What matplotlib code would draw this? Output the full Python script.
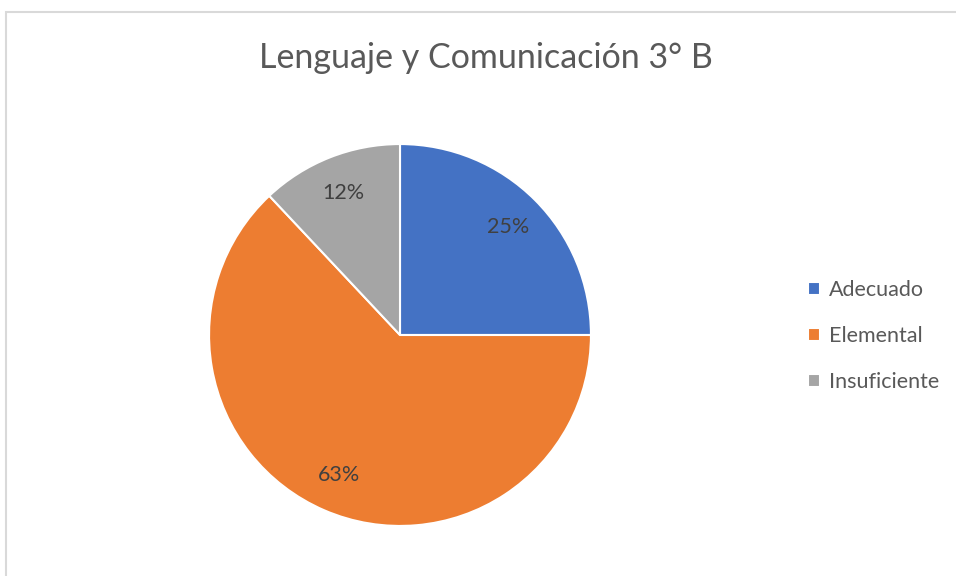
import matplotlib.pyplot as plt
from matplotlib.patches import Rectangle

# data
categories = ["Adecuado", "Elemental", "Insuficiente"]
percentages = [25, 63, 12]
colors = ["#4472C4", "#ED7D31", "#A5A5A5"]

plt.rcParams['font.family'] = ['Lato', 'DejaVu Sans']

fig = plt.figure(figsize=(9.56, 5.76), dpi=100)

# light chart border (top and left visible)
fig.patches.append(Rectangle((6 / 956, -0.1), 1.2, (576 - 12) / 576 + 0.1,
                             transform=fig.transFigure, fill=False,
                             edgecolor="#D9D9D9", linewidth=1.5))

ax = fig.add_axes([210 / 956, 51 / 576, 380 / 956, 380 / 576])
wedges, texts, autotexts = ax.pie(
    percentages, colors=colors, startangle=90, counterclock=False,
    autopct=lambda p: f"{p:.0f}%", pctdistance=0.8,
    wedgeprops=dict(edgecolor="white", linewidth=1.5),
    textprops=dict(color="#404040", fontsize=15.5))
ax.set_xlim(-0.995, 0.995)
ax.set_ylim(-0.995, 0.995)

fig.text(486 / 956, 1 - 58 / 576, "Lenguaje y Comunicación 3° B",
         ha="center", va="center", fontsize=24.5, color="#595959")

leg = fig.legend(wedges, categories, loc="center left",
                 bbox_to_anchor=(789 / 956, 1 - 336 / 576),
                 frameon=False, fontsize=15.5, labelcolor="#595959",
                 handlelength=0.55, handleheight=0.55, handletextpad=0.4,
                 labelspacing=1.2)

fig.savefig("out.png", dpi=100)
